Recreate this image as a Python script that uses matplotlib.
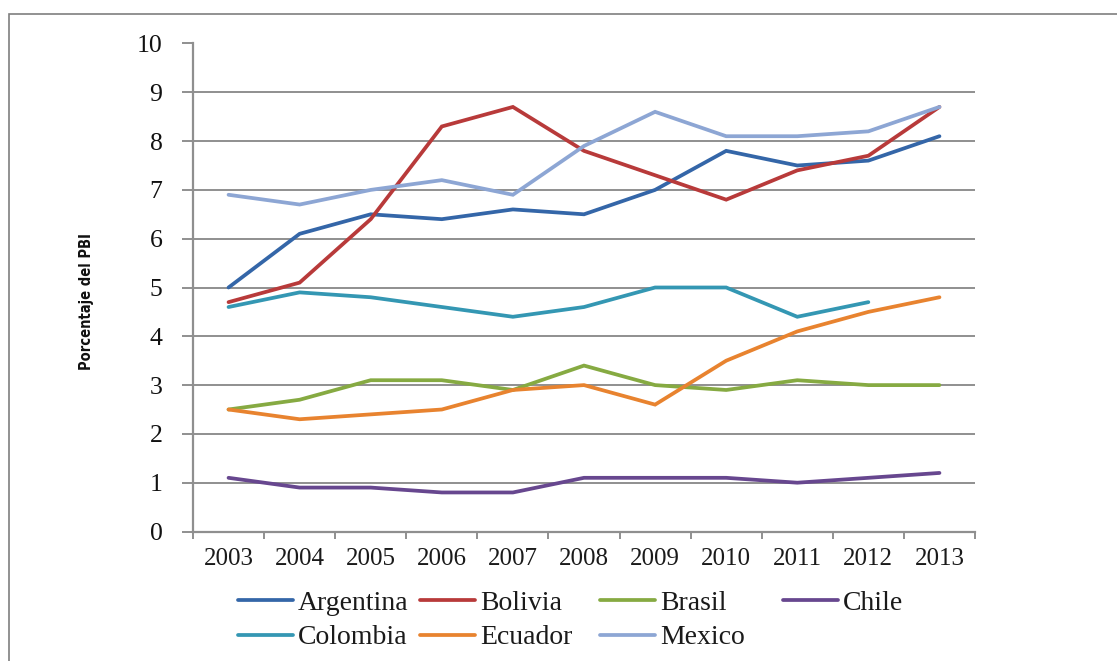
import matplotlib
matplotlib.use("Agg")
import matplotlib.pyplot as plt
from matplotlib.lines import Line2D
from matplotlib.patches import Rectangle

years = ["2003", "2004", "2005", "2006", "2007", "2008", "2009", "2010", "2011", "2012", "2013"]

argentina = [5.0, 6.1, 6.5, 6.4, 6.6, 6.5, 7.0, 7.8, 7.5, 7.6, 8.1]
bolivia = [4.7, 5.1, 6.4, 8.3, 8.7, 7.8, 7.3, 6.8, 7.4, 7.7, 8.7]
brasil = [2.5, 2.7, 3.1, 3.1, 2.9, 3.4, 3.0, 2.9, 3.1, 3.0, 3.0]
chile = [1.1, 0.9, 0.9, 0.8, 0.8, 1.1, 1.1, 1.1, 1.0, 1.1, 1.2]
colombia = [4.6, 4.9, 4.8, 4.6, 4.4, 4.6, 5.0, 5.0, 4.4, 4.7]
ecuador = [2.5, 2.3, 2.4, 2.5, 2.9, 3.0, 2.6, 3.5, 4.1, 4.5, 4.8]
mexico = [6.9, 6.7, 7.0, 7.2, 6.9, 7.9, 8.6, 8.1, 8.1, 8.2, 8.7]

names = ["Argentina", "Bolivia", "Brasil", "Chile", "Colombia", "Ecuador", "Mexico"]
series = [argentina, bolivia, brasil, chile, colombia, ecuador, mexico]
colors = ["#3466A8", "#B83A3A", "#86AA42", "#67478F", "#3497B3", "#E8832F", "#8DA6D4"]

W, H = 1117, 661
fig = plt.figure(figsize=(W / 100, H / 100), dpi=100)
fig.patch.set_facecolor("white")

# outer frame (only top and left edges fall inside the canvas)
fig.add_artist(Rectangle((9.5 / W, -0.1), 1.2, 1 - 14 / H + 0.1,
                         transform=fig.transFigure, fill=False,
                         edgecolor="#7f7f7f", linewidth=1.2))

ax = fig.add_axes([193 / W, 1 - 531.5 / H, (975 - 193) / W, (531.5 - 43.5) / H])

x = list(range(len(years)))
for vals, c in zip(series, colors):
    ax.plot(x[:len(vals)], vals, color=c, linewidth=2.7,
            solid_joinstyle="miter", solid_capstyle="round", zorder=3)

grid_c = "#8f8f8f"
ax.set_ylim(0, 10)
ax.set_xlim(-0.5, len(years) - 0.5)
ax.set_yticks(range(0, 11))
ax.yaxis.grid(True, color=grid_c, linewidth=1.4)
ax.set_axisbelow(True)

# category boundaries carry tick marks; labels sit at the category centres
ax.set_xticks([i - 0.5 for i in range(len(years) + 1)])
ax.set_xticklabels([])
ax.set_xticks(x, minor=True)
ax.set_xticklabels(years, minor=True)
ax.tick_params(axis="x", which="major", length=5, width=1.4, color=grid_c, direction="out")
ax.tick_params(axis="x", which="minor", length=0, pad=12)
ax.tick_params(axis="y", length=8, width=1.4, color=grid_c, pad=14)

serif = "Liberation Serif"
for lab in ax.get_xticklabels(minor=True):
    lab.set_fontfamily(serif)
    lab.set_fontsize(18)
    lab.set_color("#1a1a1a")
for lab in ax.get_yticklabels():
    lab.set_fontfamily(serif)
    lab.set_fontsize(18.5)
    lab.set_color("#111111")

for side in ("top", "right"):
    ax.spines[side].set_visible(False)
ax.spines["left"].set_color(grid_c)
ax.spines["left"].set_linewidth(1.6)
ax.spines["bottom"].set_color(grid_c)
ax.spines["bottom"].set_linewidth(1.6)

fig.text(86 / W, 1 - 302 / H, "Porcentaje del PBI", rotation=90,
         ha="center", va="center", fontsize=10.5, fontweight="bold",
         fontstretch="condensed",
         family=["DejaVu Sans", "Liberation Sans"], color="#111111")

# legend: two rows, four columns
col_x = [238, 420, 600, 783]
row_y = [600, 635]
for i, (name, c) in enumerate(zip(names, colors)):
    r, k = divmod(i, 4)
    x0 = col_x[k]
    yy = 1 - row_y[r] / H
    fig.add_artist(Line2D([x0 / W, (x0 + 55) / W], [yy, yy], transform=fig.transFigure,
                          color=c, linewidth=2.7, solid_capstyle="round"))
    fig.text((x0 + 60) / W, yy, name, ha="left", va="center_baseline",
             fontsize=20, family=serif, color="#1a1a1a")

fig.savefig("out.png", dpi=100, facecolor="white")
